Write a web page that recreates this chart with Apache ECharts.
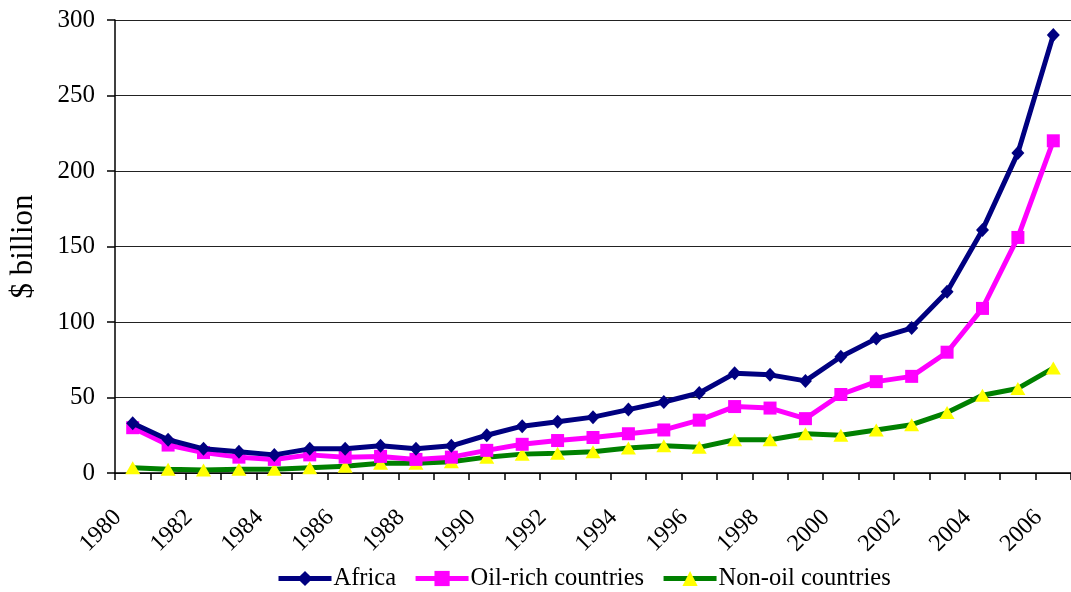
<!DOCTYPE html>
<html>
<head>
<meta charset="utf-8">
<script src="https://cdn.jsdelivr.net/npm/echarts@6/dist/echarts.min.js"></script>
<style>
  html, body { margin: 0; padding: 0; background: #fff; }
  #chart { width: 1071px; height: 592px; }
</style>
</head>
<body>
<div id="chart"></div>
<script>
// Years on the category axis
const years = ['1980','1981','1982','1983','1984','1985','1986','1987','1988','1989',
  '1990','1991','1992','1993','1994','1995','1996','1997','1998','1999',
  '2000','2001','2002','2003','2004','2005','2006'];

// Values in $ billion
const africa = [33, 22, 16, 14, 12, 16, 16, 18, 16, 18,
  25, 31, 34, 37, 42, 47, 53, 66, 65, 61,
  77, 89, 96, 120, 161, 212, 290];
const oilRich = [30, 18.5, 13.5, 10.5, 9, 12, 10.5, 11, 9, 10.5,
  15, 19, 21.5, 23.5, 26, 28.5, 35, 44, 43, 36,
  52, 60.5, 64, 80, 109, 156, 220];
const nonOil = [3.5, 2.5, 2, 2.5, 2.5, 3.5, 4.5, 6.5, 6.5, 7.5,
  10.5, 12.5, 13, 14, 16.5, 18, 17, 22, 22, 26,
  25, 28.5, 32, 40, 51.5, 56, 69.5];

const seriesNames = ['Africa', 'Oil-rich countries', 'Non-oil countries'];
const yTicks = { min: 0, max: 300, step: 50 };

const serif = '"Liberation Serif", "Times New Roman", serif';

const chart = echarts.init(document.getElementById('chart'), null, { renderer: 'canvas' });

chart.setOption({
  animation: false,
  backgroundColor: '#fff',
  grid: { left: 115, top: 20, width: 962, bottom: 119, containLabel: false },
  legend: {
    left: 276,
    top: 566,
    padding: 0,
    itemWidth: 53,
    itemHeight: 19,
    itemGap: 17,
    lineStyle: { width: 5 },
    textStyle: { fontFamily: serif, fontSize: 24.5, color: '#000', padding: [0, 0, 0, -3] },
    data: seriesNames
  },
  xAxis: {
    type: 'category',
    data: years,
    boundaryGap: true,
    axisLine: { lineStyle: { color: '#000', width: 1.5 } },
    axisTick: { show: true, interval: 0, length: 7, lineStyle: { color: '#000', width: 1.5 } },
    axisLabel: {
      interval: 1,
      rotate: 45,
      margin: 26,
      padding: [0, 21, 0, 0],
      fontFamily: serif,
      fontSize: 24,
      color: '#000'
    },
    splitLine: { show: false }
  },
  yAxis: {
    type: 'value',
    min: yTicks.min,
    max: yTicks.max,
    interval: yTicks.step,
    name: '$ billion',
    nameLocation: 'middle',
    nameGap: 76,
    nameTextStyle: { fontFamily: serif, fontSize: 31, color: '#000' },
    axisLine: { show: true, lineStyle: { color: '#000', width: 1.5 } },
    axisTick: { show: true, length: 8, lineStyle: { color: '#000', width: 1.5 } },
    axisLabel: { margin: 20, fontFamily: serif, fontSize: 25, color: '#000' },
    splitLine: { show: true, lineStyle: { color: '#222', width: 1 } }
  },
  series: [
    {
      name: seriesNames[0],
      type: 'line',
      data: africa,
      symbol: 'diamond',
      symbolSize: [13, 14],
      lineStyle: { color: '#000080', width: 5 },
      itemStyle: { color: '#000080' },
      z: 4
    },
    {
      name: seriesNames[1],
      type: 'line',
      data: oilRich,
      symbol: 'rect',
      symbolSize: 13,
      lineStyle: { color: '#FF00FF', width: 5 },
      itemStyle: { color: '#FF00FF' },
      z: 3
    },
    {
      name: seriesNames[2],
      type: 'line',
      data: nonOil,
      symbol: 'triangle',
      symbolSize: [15, 13],
      lineStyle: { color: '#008000', width: 5 },
      itemStyle: { color: '#FFFF00' },
      z: 2
    }
  ]
});
</script>
</body>
</html>
